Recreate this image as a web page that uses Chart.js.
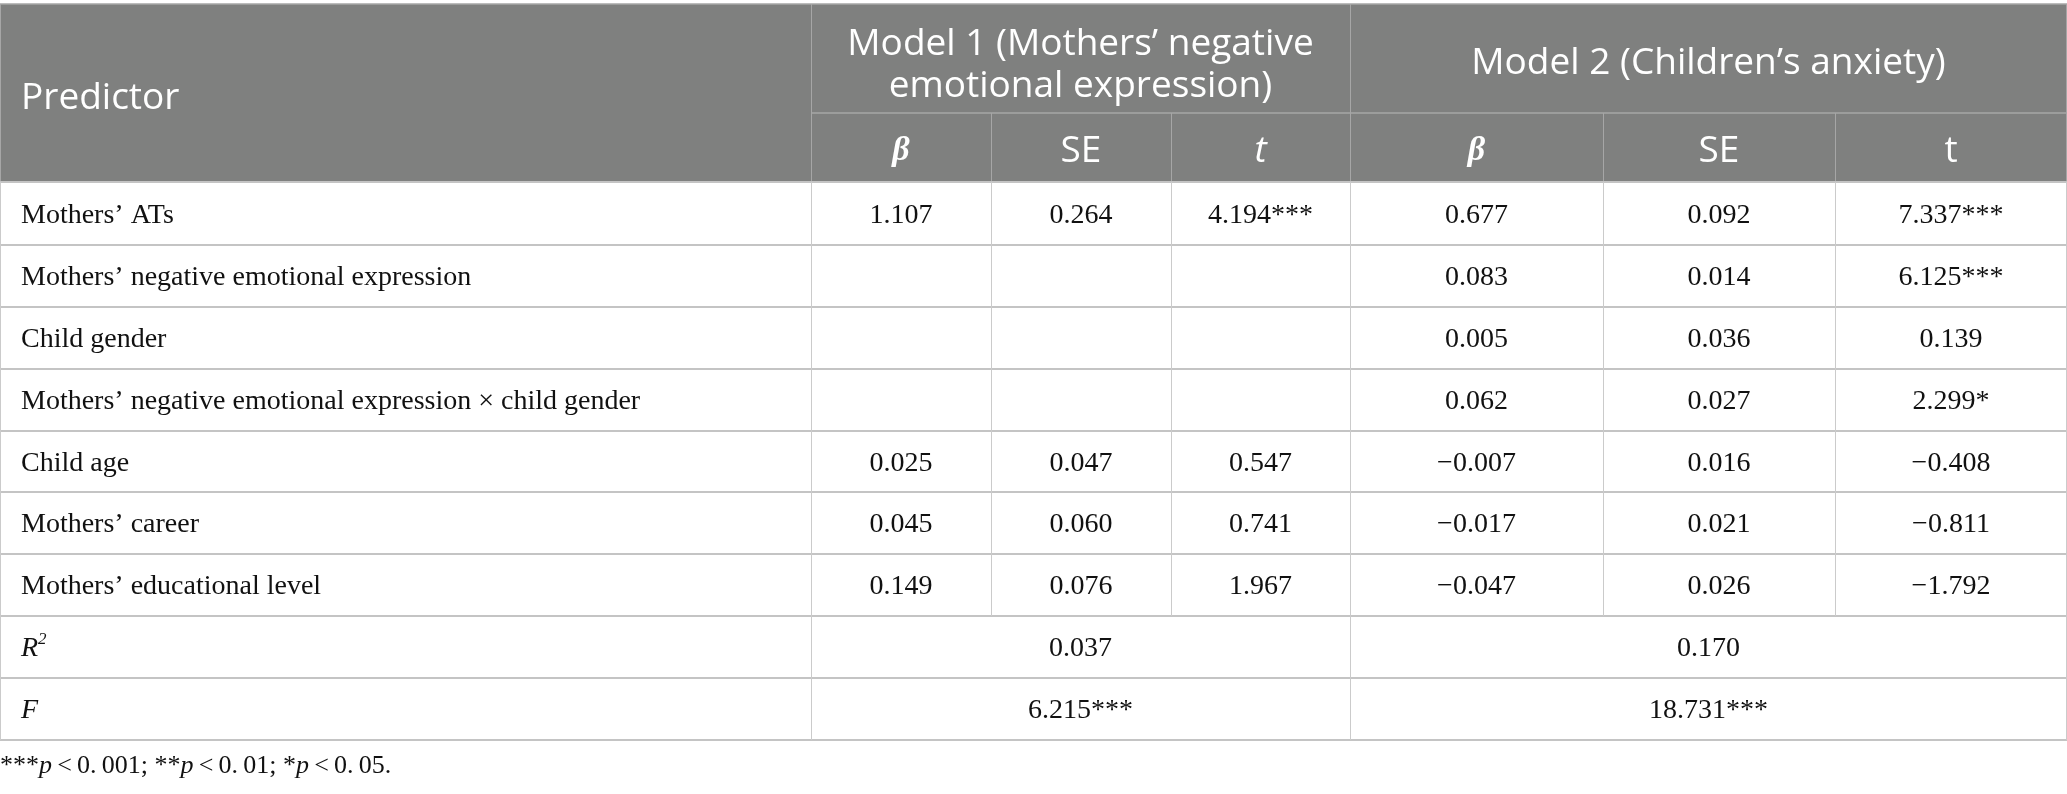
<!DOCTYPE html>
<html>
<head>
<meta charset="utf-8">
<script src="https://cdn.jsdelivr.net/npm/chart.js@4/dist/chart.umd.min.js"></script>
<style>
  html, body { margin: 0; padding: 0; background: #fff; }
  #wrap { position: relative; width: 2067px; height: 794px; }
</style>
</head>
<body>
<div id="wrap"><canvas id="tbl"></canvas></div>
<script>
// === Table content ===
const predictors = [
    'Mothers’ ATs',
    'Mothers’ negative emotional expression',
    'Child gender',
    'Mothers’ negative emotional expression × child gender',
    'Child age',
    'Mothers’ career',
    'Mothers’ educational level'
];
const m1Beta = ['1.107', '', '', '', '0.025', '0.045', '0.149'];
const m1SE   = ['0.264', '', '', '', '0.047', '0.060', '0.076'];
const m1T    = ['4.194***', '', '', '', '0.547', '0.741', '1.967'];
const m2Beta = ['0.677', '0.083', '0.005', '0.062', '−0.007', '−0.017', '−0.047'];
const m2SE   = ['0.092', '0.014', '0.036', '0.027', '0.016', '0.021', '0.026'];
const m2T    = ['7.337***', '6.125***', '0.139', '2.299*', '−0.408', '−0.811', '−1.792'];
const r2Values = ['0.037', '0.170'];
const fValues  = ['6.215***', '18.731***'];
const modelTitles = [['Model 1 (Mothers’ negative', 'emotional expression)'], ['Model 2 (Children’s anxiety)']];

// === Layout (table units, mapped through the chart scales) ===
const W = 2067, H = 794;
const colEdges = [0, 811, 991, 1171, 1350, 1603, 1835, 2067];
const rowEdges = [4, 113, 182, 245, 307, 369, 431, 492, 554, 616, 678, 740];
const footY = 766;

const SANS = '"Open Sans", "Noto Sans", sans-serif';
const SERIF = '"Liberation Serif", "DejaVu Serif", serif';
const headBg = '#7f807f';
const lineCol = '#c4c4c4';
const headLine = '#a6a6a6';
const ink = '#111111';

// draw a run of text pieces with different fonts, anchored by align
function drawRuns(ctx, runs, x, y, align) {
    let total = 0;
    runs.forEach(r => { ctx.font = r.font; r.w = ctx.measureText(r.t).width; total += r.w; });
    let cx = align === 'center' ? x - total / 2 : x;
    runs.forEach(r => {
        ctx.font = r.font;
        ctx.textAlign = 'left';
        ctx.fillText(r.t, cx, y + (r.dy || 0));
        cx += r.w;
    });
}

const tablePlugin = {
    id: 'tablePlugin',
    afterDraw(chart) {
        const ctx = chart.ctx, xs = chart.scales.x, ys = chart.scales.y;
        const px = v => xs.getPixelForValue(v), py = v => ys.getPixelForValue(v);
        const cx = i => (px(colEdges[i]) + px(colEdges[i + 1])) / 2;
        const cy = i => (py(rowEdges[i]) + py(rowEdges[i + 1])) / 2;
        ctx.save();

        // header background
        ctx.fillStyle = headBg;
        ctx.fillRect(px(0), py(rowEdges[0]), px(W) - px(0), py(rowEdges[2]) - py(rowEdges[0]));

        // header lines
        ctx.strokeStyle = headLine; ctx.lineWidth = 1.5;
        ctx.beginPath();
        ctx.moveTo(px(0), py(rowEdges[0])); ctx.lineTo(px(W), py(rowEdges[0]));
        ctx.moveTo(px(colEdges[1]), py(rowEdges[1])); ctx.lineTo(px(W), py(rowEdges[1]));
        ctx.stroke();
        ctx.lineWidth = 1;
        ctx.beginPath();
        [1, 4].forEach(c => { ctx.moveTo(px(colEdges[c]) + 0.5, py(rowEdges[0])); ctx.lineTo(px(colEdges[c]) + 0.5, py(rowEdges[2])); });
        [2, 3, 5, 6].forEach(c => { ctx.moveTo(px(colEdges[c]) + 0.5, py(rowEdges[1])); ctx.lineTo(px(colEdges[c]) + 0.5, py(rowEdges[2])); });
        ctx.moveTo(px(0) + 0.5, py(rowEdges[0])); ctx.lineTo(px(0) + 0.5, py(rowEdges[2]));
        ctx.moveTo(px(W) - 0.5, py(rowEdges[0])); ctx.lineTo(px(W) - 0.5, py(rowEdges[2]));
        ctx.stroke();

        // body horizontal lines
        ctx.strokeStyle = lineCol; ctx.lineWidth = 2;
        ctx.beginPath();
        for (let r = 2; r < rowEdges.length; r++) {
            ctx.moveTo(px(0), py(rowEdges[r])); ctx.lineTo(px(W), py(rowEdges[r]));
        }
        ctx.stroke();
        // body vertical lines
        ctx.strokeStyle = '#cbcbcb'; ctx.lineWidth = 1;
        ctx.beginPath();
        const lastData = 2 + predictors.length;
        for (let c = 0; c < colEdges.length; c++) {
            const x = c === colEdges.length - 1 ? px(colEdges[c]) - 0.5 : px(colEdges[c]) + 0.5;
            const full = (c === 0 || c === 1 || c === 4 || c === colEdges.length - 1);
            ctx.moveTo(x, py(rowEdges[2]));
            ctx.lineTo(x, py(rowEdges[full ? rowEdges.length - 1 : lastData]));
        }
        ctx.stroke();

        // header text
        const headFont = '37px ' + SANS;
        ctx.fillStyle = '#ffffff'; ctx.textBaseline = 'middle';
        ctx.font = headFont; ctx.textAlign = 'left';
        ctx.fillText('Predictor', px(21), (py(rowEdges[0]) + py(rowEdges[2])) / 2 + 5);
        const m1c = (px(colEdges[1]) + px(colEdges[4])) / 2;
        const m2c = (px(colEdges[4]) + px(colEdges[7])) / 2;
        ctx.textAlign = 'center';
        ctx.fillText(modelTitles[0][0], m1c, py(44));
        ctx.fillText(modelTitles[0][1], m1c, py(86));
        ctx.fillText(modelTitles[1][0], m2c, cy(0) + 5);
        const subY = cy(1) + 4;
        drawRuns(ctx, [{ t: 'β', font: 'italic bold 34px ' + SERIF }], cx(1), subY, 'center');
        drawRuns(ctx, [{ t: 'SE', font: headFont }], cx(2), subY, 'center');
        drawRuns(ctx, [{ t: 't', font: 'italic ' + headFont }], cx(3), subY, 'center');
        drawRuns(ctx, [{ t: 'β', font: 'italic bold 34px ' + SERIF }], cx(4), subY, 'center');
        drawRuns(ctx, [{ t: 'SE', font: headFont }], cx(5), subY, 'center');
        drawRuns(ctx, [{ t: 't', font: headFont }], cx(6), subY, 'center');

        // body text
        ctx.fillStyle = ink;
        const bodyFont = '28px ' + SERIF;
        const cols = [m1Beta, m1SE, m1T, m2Beta, m2SE, m2T];
        predictors.forEach((p, i) => {
            const y = cy(2 + i) + 2;
            ctx.font = bodyFont; ctx.textAlign = 'left';
            ctx.fillText(p, px(21), y);
            ctx.textAlign = 'center';
            cols.forEach((col, c) => { if (col[i]) ctx.fillText(col[i], cx(1 + c), y); });
        });
        // R² and F rows
        const rR = 2 + predictors.length, rF = rR + 1;
        drawRuns(ctx, [{ t: 'R', font: 'italic 28px ' + SERIF }, { t: '2', font: 'italic 17px ' + SERIF, dy: -9 }], px(21), cy(rR) + 2, 'left');
        drawRuns(ctx, [{ t: 'F', font: 'italic 28px ' + SERIF }], px(21), cy(rF) + 2, 'left');
        ctx.font = bodyFont; ctx.textAlign = 'center';
        ctx.fillText(r2Values[0], m1c, cy(rR) + 2);
        ctx.fillText(r2Values[1], m2c, cy(rR) + 2);
        ctx.fillText(fValues[0], m1c, cy(rF) + 2);
        ctx.fillText(fValues[1], m2c, cy(rF) + 2);

        // footnote
        const fn = '26px ' + SERIF, fi = 'italic 26px ' + SERIF;
        drawRuns(ctx, [
            { t: '***', font: fn }, { t: 'p', font: fi }, { t: '\u2009<\u20090.\u2009001; **', font: fn },
            { t: 'p', font: fi }, { t: '\u2009<\u20090.\u200901; *', font: fn },
            { t: 'p', font: fi }, { t: '\u2009<\u20090.\u200905.', font: fn }
        ], px(0), py(footY), 'left');
        ctx.restore();
    }
};

new Chart(document.getElementById('tbl'), {
    type: 'scatter',
    data: { datasets: [] },
    options: {
        responsive: true,
        maintainAspectRatio: false,
        animation: false,
        layout: { padding: 0 },
        plugins: { legend: { display: false }, tooltip: { enabled: false } },
        scales: {
            x: { type: 'linear', min: 0, max: W, display: false },
            y: { type: 'linear', min: 0, max: H, reverse: true, display: false }
        }
    },
    plugins: [tablePlugin]
});
</script>
</body>
</html>
